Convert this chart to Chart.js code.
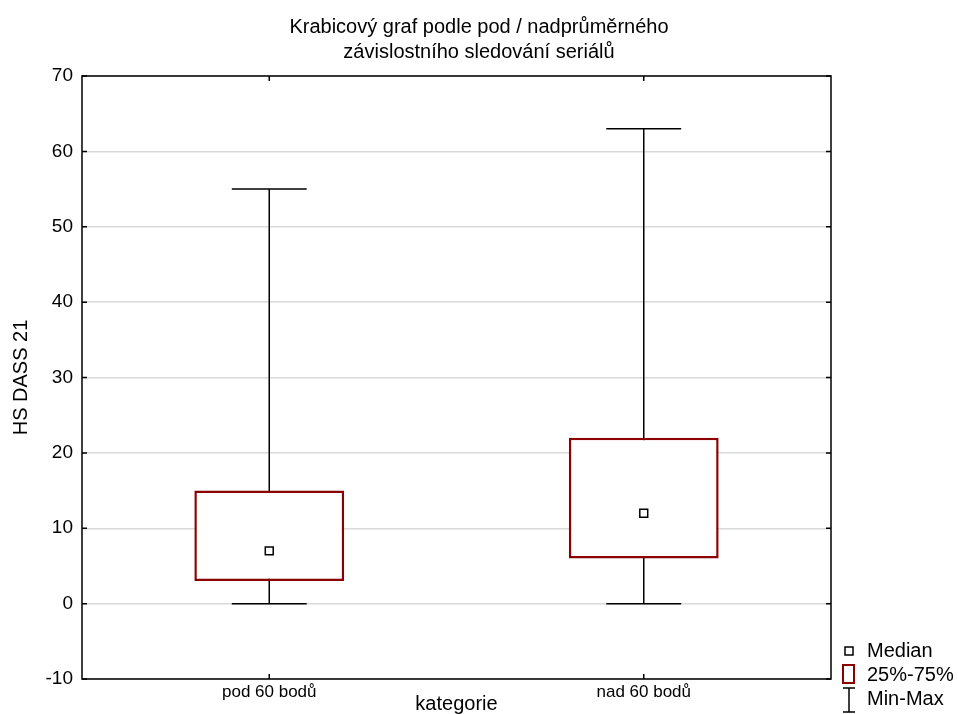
<!DOCTYPE html>
<html>
<head>
<meta charset="utf-8">
<script src="https://cdn.jsdelivr.net/npm/chart.js@4/dist/chart.umd.min.js"></script>
<style>
  html, body { margin: 0; padding: 0; background: #fff; }
  #wrap { width: 958px; height: 714px; }
</style>
</head>
<body>
<div id="wrap"><canvas id="c" width="958" height="714"></canvas></div>
<script>
// Box plot: HS DASS 21 by category
const categories = ['pod 60 bodů', 'nad 60 bodů'];
const minValues = [0, 0];
const q1Values = [3, 6];
const medianValues = [7, 12];
const q3Values = [15, 22];
const maxValues = [55, 63];
const yTickMin = -10;
const yTickMax = 70;
const yTickStep = 10;

const FONT = '"Liberation Sans", Arial, sans-serif';
const BOX_COLOR = '#8b0000';

// whiskers (min-max) drawn underneath the boxes
const whiskerPlugin = {
  id: 'whiskers',
  beforeDatasetsDraw(chart) {
    const { ctx, scales: { x, y } } = chart;
    const catW = x.getPixelForValue(1) - x.getPixelForValue(0);
    const capHalf = catW * 0.1;
    ctx.save();
    ctx.strokeStyle = '#000';
    ctx.lineWidth = 1.5;
    categories.forEach((_, i) => {
      const px = x.getPixelForValue(i);
      const yMin = y.getPixelForValue(minValues[i]);
      const yMax = y.getPixelForValue(maxValues[i]);
      ctx.beginPath();
      ctx.moveTo(px, yMin);
      ctx.lineTo(px, yMax);
      ctx.moveTo(px - capHalf, yMin);
      ctx.lineTo(px + capHalf, yMin);
      ctx.moveTo(px - capHalf, yMax);
      ctx.lineTo(px + capHalf, yMax);
      ctx.stroke();
    });
    ctx.restore();
  }
};

// frame around the plot with inward tick marks, plus the legend
const framePlugin = {
  id: 'frame',
  afterDraw(chart) {
    const { ctx, chartArea: a, scales: { x, y } } = chart;
    ctx.save();
    ctx.strokeStyle = '#000';
    ctx.lineWidth = 1.5;
    ctx.strokeRect(a.left, a.top, a.right - a.left, a.bottom - a.top);
    ctx.beginPath();
    y.ticks.forEach((t) => {
      const py = y.getPixelForValue(t.value);
      ctx.moveTo(a.left, py); ctx.lineTo(a.left + 5, py);
      ctx.moveTo(a.right, py); ctx.lineTo(a.right - 5, py);
    });
    categories.forEach((_, i) => {
      const px = x.getPixelForValue(i);
      ctx.moveTo(px, a.top); ctx.lineTo(px, a.top + 5);
      ctx.moveTo(px, a.bottom); ctx.lineTo(px, a.bottom - 5);
    });
    ctx.stroke();

    // legend
    const mx = a.right + 18;   // marker centre
    const tx = a.right + 36;   // text start
    ctx.fillStyle = '#000';
    ctx.font = '20px ' + FONT;
    ctx.textBaseline = 'middle';
    ctx.textAlign = 'left';

    ctx.lineWidth = 1.5;
    ctx.strokeStyle = '#000';
    ctx.strokeRect(mx - 4, 647, 8, 8);
    ctx.fillText('Median', tx, 651);

    ctx.strokeStyle = BOX_COLOR;
    ctx.lineWidth = 2;
    ctx.strokeRect(mx - 6, 665, 11, 18);
    ctx.fillText('25%-75%', tx, 675);

    ctx.strokeStyle = '#000';
    ctx.lineWidth = 1.5;
    ctx.beginPath();
    ctx.moveTo(mx - 6, 688); ctx.lineTo(mx + 6, 688);
    ctx.moveTo(mx, 688); ctx.lineTo(mx, 712);
    ctx.moveTo(mx - 6, 712); ctx.lineTo(mx + 6, 712);
    ctx.stroke();
    ctx.fillText('Min-Max', tx, 699);
    ctx.restore();
  }
};

new Chart(document.getElementById('c'), {
  type: 'bar',
  data: {
    labels: categories,
    datasets: [
      {
        label: '25%-75%',
        data: q1Values.map((q, i) => [q, q3Values[i]]),
        backgroundColor: '#ffffff',
        borderColor: BOX_COLOR,
        borderWidth: 2.5,
        borderSkipped: false,
        categoryPercentage: 1,
        barPercentage: 0.4,
        order: 2
      },
      {
        type: 'line',
        label: 'Median',
        data: medianValues,
        showLine: false,
        pointStyle: 'rect',
        pointRadius: 5.6,
        pointHoverRadius: 5.6,
        pointBorderWidth: 1.5,
        borderColor: '#000',
        backgroundColor: '#fff',
        order: 1
      }
    ]
  },
  options: {
    responsive: false,
    animation: false,
    devicePixelRatio: 1,
    layout: { padding: 0 },
    plugins: {
      legend: { display: false },
      tooltip: { enabled: false },
      title: {
        display: true,
        text: ['Krabicový graf podle pod / nadprůměrného', 'závislostního sledování seriálů'],
        color: '#000',
        font: { family: FONT, size: 20, weight: 'normal', lineHeight: 25 / 20 },
        padding: { top: 15, bottom: 11 }
      }
    },
    scales: {
      x: {
        type: 'category',
        offset: true,
        grid: { display: false, drawTicks: false },
        border: { display: false },
        ticks: { color: '#000', font: { family: FONT, size: 17 }, padding: 3 },
        title: {
          display: true,
          text: 'kategorie',
          color: '#000',
          font: { family: FONT, size: 20 },
          padding: { top: 0, bottom: -2 }
        },
        afterFit(scale) { scale.height = 35; }
      },
      y: {
        min: yTickMin,
        max: yTickMax,
        ticks: { stepSize: yTickStep, color: '#000', font: { family: FONT, size: 19 }, padding: 9 },
        grid: { color: '#d9d9d9', lineWidth: 1.5, drawTicks: false },
        border: { display: false },
        title: {
          display: true,
          text: 'HS DASS 21',
          color: '#000',
          font: { family: FONT, size: 20 },
          padding: { top: 9, bottom: 0 }
        },
        afterFit(scale) { scale.width = 82; }
      },
      yRight: {
        position: 'right',
        min: yTickMin,
        max: yTickMax,
        ticks: { display: false },
        grid: { display: false, drawTicks: false },
        border: { display: false },
        afterFit(scale) { scale.width = 127; }
      }
    }
  },
  plugins: [whiskerPlugin, framePlugin]
});
</script>
</body>
</html>
